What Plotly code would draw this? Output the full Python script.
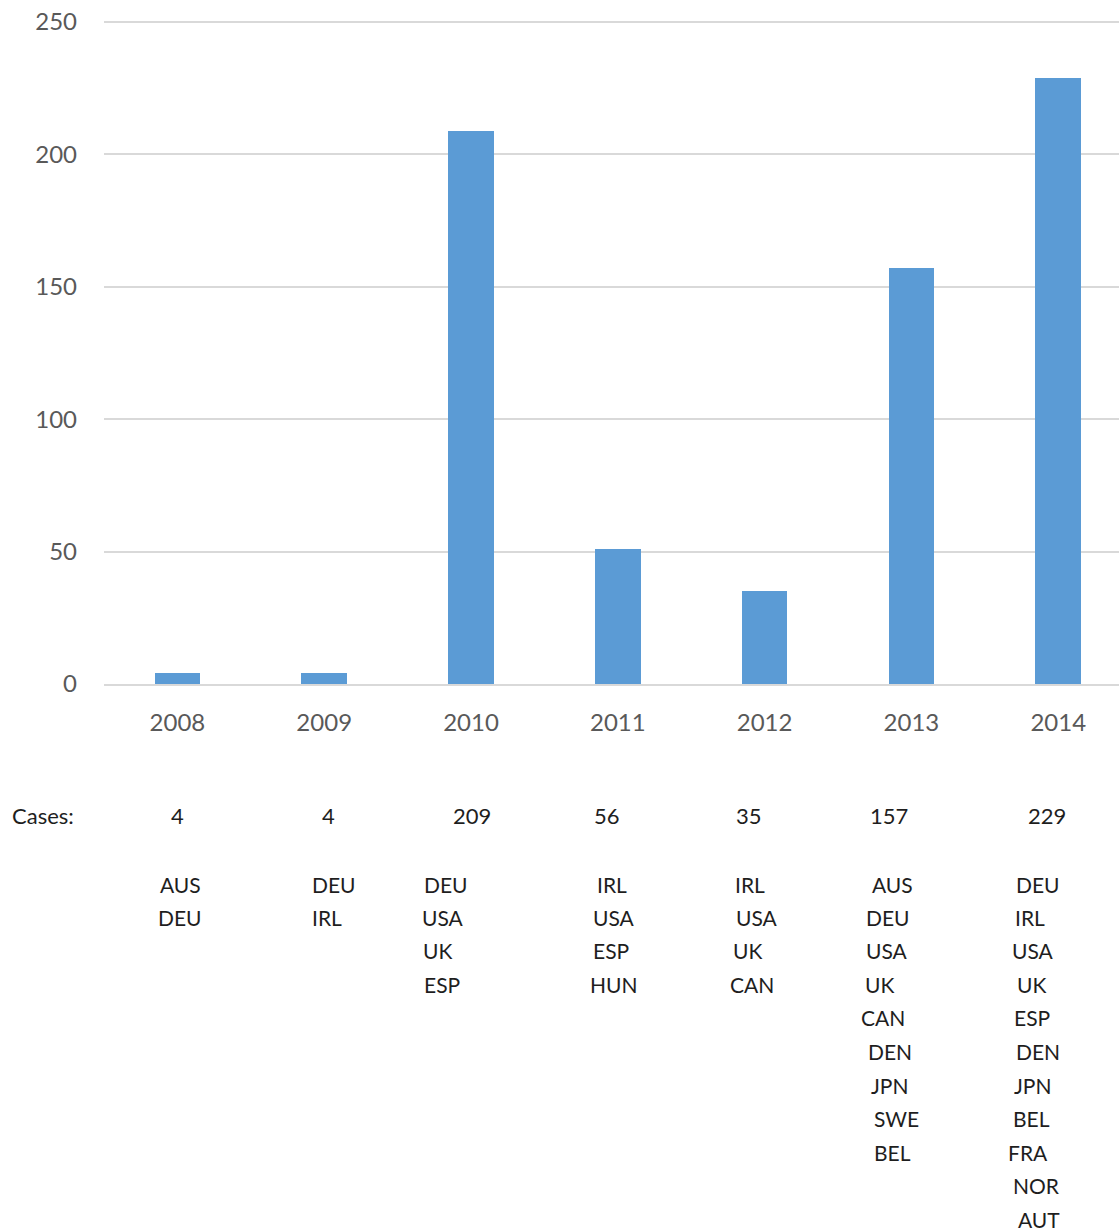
import plotly.graph_objects as go

# ---- data ----
years = ["2008", "2009", "2010", "2011", "2012", "2013", "2014"]
bar_values = [4, 4, 209, 51, 35, 157, 229]
case_labels = ["4", "4", "209", "56", "35", "157", "229"]
countries = [
    ["AUS", "DEU"],
    ["DEU", "IRL"],
    ["DEU", "USA", "UK", "ESP"],
    ["IRL", "USA", "ESP", "HUN"],
    ["IRL", "USA", "UK", "CAN"],
    ["AUS", "DEU", "USA", "UK", "CAN", "DEN", "JPN", "SWE", "BEL"],
    ["DEU", "IRL", "USA", "UK", "ESP", "DEN", "JPN", "BEL", "FRA", "NOR", "AUT"],
]
y_ticks = [0, 50, 100, 150, 200, 250]

# ---- styling / layout (pixel offsets, not data) ----
W, H = 1119, 1232
M_L, M_R, M_T, M_B = 104, 0, 17, 548
plot_h = H - M_T - M_B
y_top = 250 + 5 / (662 / 250)
case_shift = [0, 4, 1, -11, -16, -22, -11]
line_shift = [
    [3, 3],
    [10, 3],
    [-25, -28, -34, -29],
    [-6, -4, -7, -4],
    [-15, -8, -17, -13],
    [-19, -23, -24, -32, -28, -21, -21, -15, -19],
    [-20, -28, -25, -27, -26, -20, -25, -27, -30, -22, -19],
]
FONT = "Lato, 'Open Sans', sans-serif"
TXT = "#1e1e1e"
GREY = "#595959"


def py_to_paper(py):
    return (H - M_B - py) / plot_h


x_idx = list(range(len(years)))

fig = go.Figure(
    go.Bar(
        x=x_idx,
        y=bar_values,
        width=0.31,
        marker=dict(color="#5b9bd5", line=dict(width=0)),
        hoverinfo="skip",
    )
)

annotations = [
    dict(text="Cases:", xref="paper", yref="paper", x=(10 - M_L) / (W - M_L - M_R),
         y=py_to_paper(815), xanchor="left", yanchor="middle", showarrow=False,
         font=dict(family=FONT, size=22, color=TXT))
]
for i, lab in enumerate(case_labels):
    annotations.append(dict(
        text=lab, xref="x", yref="paper", x=i, xshift=case_shift[i],
        y=py_to_paper(815), xanchor="center", yanchor="middle", showarrow=False,
        font=dict(family=FONT, size=22, color=TXT)))
for i, lst in enumerate(countries):
    for k, c in enumerate(lst):
        annotations.append(dict(
            text=c, xref="x", yref="paper", x=i, xshift=line_shift[i][k],
            y=py_to_paper(884 + 33.5 * k), xanchor="center", yanchor="middle",
            showarrow=False, font=dict(family=FONT, size=21, color=TXT)))

fig.update_layout(
    width=W, height=H,
    margin=dict(l=M_L, r=M_R, t=M_T, b=M_B, pad=0),
    paper_bgcolor="white", plot_bgcolor="white",
    showlegend=False,
    bargap=0,
    annotations=annotations,
    xaxis=dict(
        range=[-0.5, 6.414],
        tickmode="array", tickvals=x_idx, ticktext=years,
        showgrid=False, zeroline=False,
        showline=True, linecolor="#d9d9d9", linewidth=1.5,
        ticks="", ticklabelstandoff=16,
        tickfont=dict(family=FONT, size=24, color=GREY),
        fixedrange=True,
    ),
    yaxis=dict(
        range=[0, y_top],
        tickmode="array", tickvals=y_ticks,
        showgrid=True, gridcolor="#d9d9d9", gridwidth=1.5,
        zeroline=False, showline=False,
        ticks="", ticklabelstandoff=26,
        tickfont=dict(family=FONT, size=24, color=GREY),
        fixedrange=True,
    ),
)

fig.write_html("out.html", config={"displayModeBar": False})
